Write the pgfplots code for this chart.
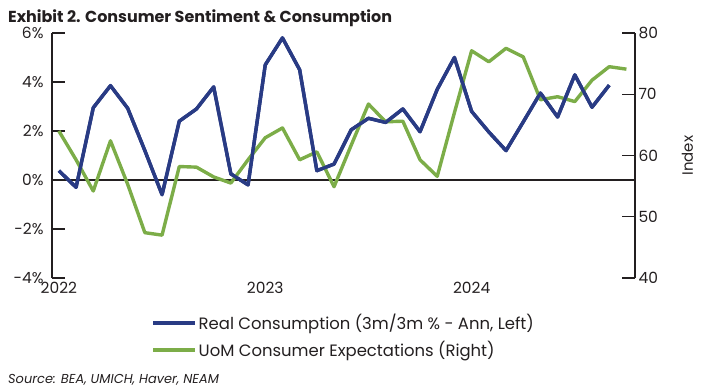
\documentclass[border=0pt]{standalone}
\usepackage{pgfplots}
\pgfplotsset{compat=1.18}
\usepackage{fontspec}
\setmainfont{Poppins}
\definecolor{navy}{HTML}{293B84}
\definecolor{lgreen}{HTML}{7CAD48}
\definecolor{txt}{HTML}{231F20}
\pgfplotstableread{
i v
0 0.38
1 -0.3
2 2.95
3 3.85
4 2.93
5 1.2
6 -0.6
7 2.4
8 2.9
9 3.8
10 0.25
11 -0.2
12 4.7
13 5.8
14 4.5
15 0.38
16 0.65
17 2.05
18 2.52
19 2.35
20 2.9
21 1.97
22 3.7
23 5.0
24 2.8
25 1.96
26 1.2
27 2.37
28 3.55
29 2.57
30 4.29
31 2.97
32 3.87
}\cons
\pgfplotstableread{
i v
0 64.0
1 59.3
2 54.2
3 62.4
4 55.3
5 47.4
6 47.0
7 58.2
8 58.1
9 56.5
10 55.5
11 59.3
12 62.9
13 64.5
14 59.3
15 60.6
16 54.9
17 61.7
18 68.4
19 65.5
20 65.6
21 59.3
22 56.6
23 67.0
24 77.1
25 75.3
26 77.5
27 76.1
28 69.1
29 69.6
30 68.8
31 72.3
32 74.5
33 74.1
}\uom
\begin{document}
\begin{tikzpicture}[x=1bp,y=1bp]
\useasboundingbox (0,0) rectangle (703,390);
\node[anchor=base west, font=\fontsize{16}{19}\selectfont\bfseries, text=txt, inner sep=0pt] at (8,368) {Exhibit 2. Consumer Sentiment \& Consumption};
\node[anchor=base west, font=\fontsize{13}{15}\selectfont\itshape, text=txt, inner sep=0pt] at (8,7) {Source: BEA, UMICH, Haver, NEAM};
\begin{axis}[
  at={(52bp,112bp)}, anchor=south west,
  scale only axis, width=583bp, height=245bp,
  xmin=-0.4, xmax=33.5, ymin=-4, ymax=6,
  axis y line*=left, axis x line*=bottom,
  x axis line style={draw=none},
  y axis line style={line width=1.3bp, txt},
  xtick={0,12,24}, xticklabels={2022,2023,2024},
  xtick style={draw=none},
  ytick={-4,-2,0,2,4,6},
  yticklabel={\pgfmathprintnumber{\tick}\%},
  ytick style={line width=1.3bp, txt},
  tick align=inside, major tick length=13bp,
  /pgf/number format/assume math mode=true,
  tick label style={font=\fontsize{15.5}{18}\selectfont, text=txt},
  xticklabel style={yshift=-1bp},
  yticklabel style={xshift=-5bp},
  extra y ticks={0}, extra y tick labels={},
  extra y tick style={grid=major, major grid style={line width=1.3bp, txt}, major tick length=0pt},
  legend style={at={(0.17,-0.14)}, anchor=north west, draw=none, fill=none,
    font=\fontsize{16.5}{19}\selectfont, text=txt, row sep=6bp, inner sep=0pt},
  legend cell align=left,
  legend image code/.code={\draw[#1, line width=3.4bp] (0bp,0bp) -- (42bp,0bp);},
]
\addplot[navy, line width=3.4bp, line join=round] table[x=i,y=v]{\cons};
\addlegendentry{Real Consumption (3m/3m \% - Ann, Left)}
\addlegendimage{lgreen}
\addlegendentry{UoM Consumer Expectations (Right)}
\end{axis}
\begin{axis}[
  at={(52bp,112bp)}, anchor=south west,
  scale only axis, width=583bp, height=245bp,
  xmin=-0.4, xmax=33.5, ymin=40, ymax=80,
  axis y line*=right, axis x line=none,
  y axis line style={line width=1.3bp, txt},
  ytick={40,50,...,80},
  ytick style={line width=1.3bp, txt},
  tick align=inside, major tick length=13bp,
  /pgf/number format/assume math mode=true,
  tick label style={font=\fontsize{15.5}{18}\selectfont, text=txt},
  ylabel={Index}, ylabel style={font=\fontsize{15}{18}\selectfont, text=txt, yshift=-17bp},
]
\addplot[lgreen, line width=3.4bp, line join=round] table[x=i,y=v]{\uom};
\end{axis}
\begin{axis}[
  at={(52bp,112bp)}, anchor=south west,
  scale only axis, width=583bp, height=245bp,
  xmin=-0.4, xmax=33.5, ymin=-4, ymax=6,
  axis lines=none,
]
\addplot[navy, line width=3.4bp, line join=round] table[x=i,y=v]{\cons};
\end{axis}
\end{tikzpicture}
\end{document}
